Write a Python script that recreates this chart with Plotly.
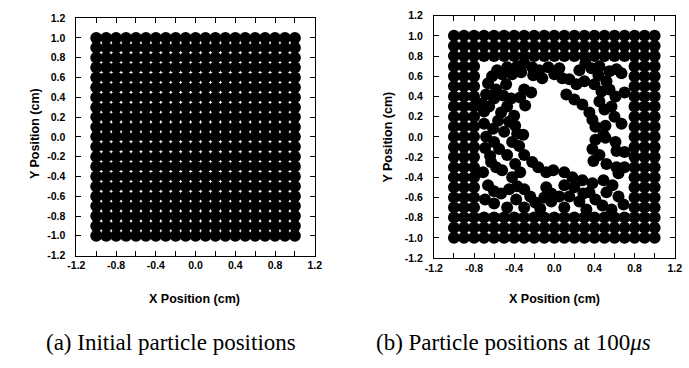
import plotly.graph_objects as go

# ---------------- data ----------------
# lattice coordinates (cm) of the initial particle grid
grid_coords = [-1.0, -0.9, -0.8, -0.7, -0.6, -0.5, -0.4, -0.3, -0.2, -0.1, 0.0,
               0.1, 0.2, 0.3, 0.4, 0.5, 0.6, 0.7, 0.8, 0.9, 1.0]
# rows / columns of the grid that stay fixed at 100 us (outer band)
band_coords = [-1.0, -0.9, -0.8, 0.8, 0.9, 1.0]
inner_coords = [-0.7, -0.6, -0.5, -0.4, -0.3, -0.2, -0.1, 0.0, 0.1, 0.2, 0.3,
                0.4, 0.5, 0.6, 0.7]

# displaced particle positions at 100 us
moved_x = [
    # upper left
    -0.66, -0.62, -0.57, -0.47, -0.42, -0.37, -0.30, -0.22, -0.21, -0.68,
    -0.60, -0.51, -0.43, -0.34, -0.29, -0.30, -0.23, -0.53, -0.56, -0.61,
    -0.40, -0.39, -0.37, -0.52, -0.33, -0.15, -0.48, -0.58, -0.72, -0.70,
    -0.65, -0.47, -0.45, -0.50, -0.70,
    # upper right
    -0.06, 0.00, 0.08, 0.15, 0.22, 0.31, 0.37, 0.44, 0.52, 0.62,
    0.67, 0.55, 0.61, 0.70, 0.12, 0.20, 0.28, 0.35, 0.38, 0.50,
    0.57, 0.41, 0.51, 0.67, 0.49, 0.05, 0.25, 0.45, 0.55, 0.30,
    0.40, 0.47, 0.45, 0.60, -0.12,
    # lower left
    -0.68, -0.60, -0.69, -0.64, -0.42, -0.35, -0.31, -0.63, -0.58, -0.52,
    -0.39, -0.34, -0.22, -0.16, -0.08, -0.66, -0.60, -0.53, -0.45, -0.37,
    -0.30, -0.24, -0.19, -0.14, -0.03, -0.47, -0.69, -0.55, -0.47, -0.30,
    -0.42, -0.71, -0.60, -0.38, -0.30, -0.08, -0.10,
    # lower right
    0.41, 0.51, 0.61, 0.38, 0.39, 0.62, 0.52, -0.01, 0.10, 0.18,
    0.28, 0.38, 0.49, 0.64, 0.70, -0.03, 0.05, 0.15, 0.25, 0.29,
    0.41, 0.48, 0.64, 0.69, 0.10, 0.20, 0.35, 0.52, 0.58, 0.10,
    0.32, 0.57, 0.45, 0.70, 0.62,
]
moved_y = [
    # upper left
    0.53, 0.60, 0.66, 0.69, 0.62, 0.70, 0.73, 0.69, 0.61, 0.42,
    0.38, 0.41, 0.38, 0.39, 0.31, 0.47, 0.44, 0.24, 0.16, 0.08,
    0.21, 0.11, 0.03, 0.62, 0.64, 0.66, 0.52, 0.47, 0.33, 0.25,
    0.30, 0.30, 0.15, 0.05, 0.13,
    # upper right
    0.69, 0.62, 0.58, 0.57, 0.52, 0.73, 0.68, 0.61, 0.55, 0.67,
    0.63, 0.47, 0.40, 0.44, 0.42, 0.37, 0.32, 0.24, 0.17, 0.27,
    0.30, 0.10, 0.11, 0.13, 0.02, 0.68, 0.66, 0.70, 0.65, 0.55,
    0.52, 0.45, 0.35, 0.20, 0.58,
    # lower left
    0.00, -0.05, -0.11, -0.19, -0.05, -0.09, 0.02, -0.25, -0.30, -0.33,
    -0.27, -0.35, -0.25, -0.30, -0.35, -0.48, -0.54, -0.56, -0.52, -0.49,
    -0.52, -0.59, -0.65, -0.71, -0.64, -0.70, -0.62, -0.12, -0.18, -0.18,
    -0.40, -0.35, -0.66, -0.62, -0.70, -0.50, -0.60,
    # lower right
    -0.03, -0.01, -0.05, -0.12, -0.24, -0.14, -0.27, -0.33, -0.35, -0.40,
    -0.43, -0.46, -0.43, -0.36, -0.30, -0.56, -0.59, -0.59, -0.64, -0.56,
    -0.62, -0.68, -0.59, -0.67, -0.48, -0.50, -0.55, -0.55, -0.48, -0.70,
    -0.72, -0.72, -0.18, -0.15, -0.30,
]

tick_vals = [-1.2, -1.0, -0.8, -0.6, -0.4, -0.2, 0.0, 0.2, 0.4, 0.6, 0.8, 1.0, 1.2]
x_tick_text = ["-1.2", "", "-0.8", "", "-0.4", "", "0.0", "", "0.4", "", "0.8", "", "1.2"]
y_tick_text = ["-1.2", "-1.0", "-0.8", "-0.6", "-0.4", "-0.2", "0.0", "0.2", "0.4",
               "0.6", "0.8", "1.0", "1.2"]

# ---------------- build point sets ----------------
init_x, init_y = [], []
for yv in grid_coords:
    for xv in grid_coords:
        init_x.append(xv)
        init_y.append(yv)

fin_x, fin_y = [], []
for yv in band_coords:
    for xv in grid_coords:
        fin_x.append(xv)
        fin_y.append(yv)
for yv in inner_coords:
    for xv in band_coords:
        fin_x.append(xv)
        fin_y.append(yv)
fin_x += moved_x
fin_y += moved_y

W, H = 689, 368
marker = dict(size=12, color="black", line=dict(width=0))

fig = go.Figure()
fig.add_trace(go.Scatter(x=init_x, y=init_y, mode="markers", marker=marker,
                         xaxis="x", yaxis="y", showlegend=False, hoverinfo="skip"))
fig.add_trace(go.Scatter(x=fin_x, y=fin_y, mode="markers", marker=marker,
                         xaxis="x2", yaxis="y2", showlegend=False, hoverinfo="skip"))

tickfont = dict(family="Liberation Sans, Arial, sans-serif", size=10.5, color="black",
                weight="bold")

def xax(domain):
    return dict(domain=domain, range=[-1.2, 1.2], tickmode="array", tickvals=tick_vals,
                ticktext=x_tick_text, ticks="inside", ticklen=5, tickwidth=1,
                tickcolor="black", showline=True, linecolor="black", linewidth=1,
                mirror="ticks", showgrid=False, zeroline=False, tickfont=tickfont,
                fixedrange=True)

def yax(domain, anchor):
    return dict(domain=domain, range=[-1.2, 1.2], tickmode="array", tickvals=tick_vals,
                ticktext=y_tick_text, ticks="inside", ticklen=5, tickwidth=1,
                tickcolor="black", showline=True, linecolor="black", linewidth=1,
                mirror="ticks", showgrid=False, zeroline=False, tickfont=tickfont,
                anchor=anchor, ticklabelstandoff=8, fixedrange=True)

xa = xax([69 / W, 313 / W]); xa["anchor"] = "y"
xa2 = xax([435 / W, 681.5 / W]); xa2["anchor"] = "y2"
ya = yax([(H - 258) / H, (H - 12.5) / H], "x")
ya2 = yax([(H - 260.5) / H, (H - 10) / H], "x2")

titlefont = dict(family="Liberation Sans, Arial, sans-serif", size=12.5, color="black",
                 weight="bold")
capfont = dict(family="Liberation Serif, Times New Roman, serif", size=23, color="black")

annotations = [
    dict(text="X Position (cm)", x=190 / W, y=(H - 303) / H, xref="paper", yref="paper",
         showarrow=False, font=titlefont, xanchor="center", yanchor="middle"),
    dict(text="X Position (cm)", x=558 / W, y=(H - 303) / H, xref="paper", yref="paper",
         showarrow=False, font=titlefont, xanchor="center", yanchor="middle"),
    dict(text="Y Position (cm)", x=26 / W, y=(H - 132) / H, xref="paper", yref="paper",
         showarrow=False, font=titlefont, textangle=-90, xanchor="center", yanchor="middle"),
    dict(text="Y Position (cm)", x=388 / W, y=(H - 135) / H, xref="paper", yref="paper",
         showarrow=False, font=titlefont, textangle=-90, xanchor="center", yanchor="middle"),
    dict(text="(a) Initial particle positions", x=166 / W, y=(H - 348) / H,
         xref="paper", yref="paper", showarrow=False, font=capfont,
         xanchor="center", yanchor="middle"),
    dict(text="(b) Particle positions at 100<i>μs</i>", x=516 / W, y=(H - 348) / H,
         xref="paper", yref="paper", showarrow=False, font=capfont,
         xanchor="center", yanchor="middle"),
]

fig.update_layout(width=W, height=H, margin=dict(l=0, r=0, t=0, b=0),
                  paper_bgcolor="white", plot_bgcolor="white",
                  xaxis=xa, yaxis=ya, xaxis2=xa2, yaxis2=ya2,
                  annotations=annotations, showlegend=False)

fig.write_html("out.html", config={"displayModeBar": False},
               post_script="document.body.style.margin='0px';"
                           "document.body.style.overflow='hidden';")
